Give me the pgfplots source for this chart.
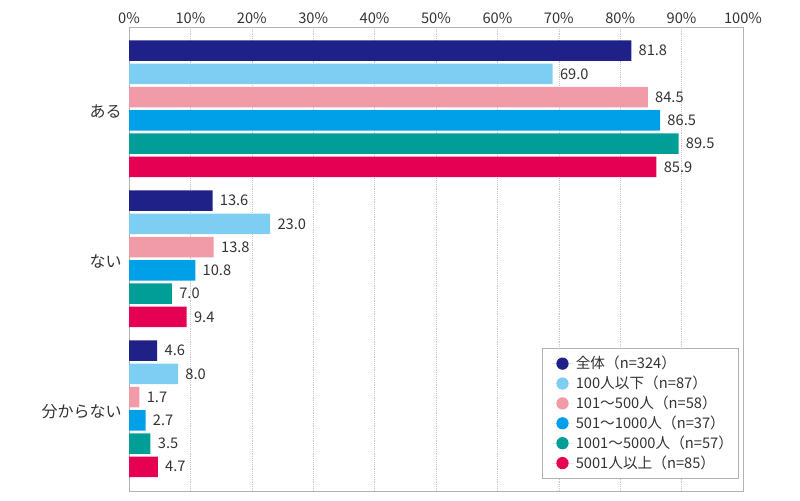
\documentclass[border=0pt]{standalone}
\usepackage{fontspec}
\setmainfont{Noto Sans CJK JP}
\usepackage{pgfplots}
\pgfplotsset{compat=1.18}
\definecolor{cA}{RGB}{31,33,136}
\definecolor{cB}{RGB}{126,206,244}
\definecolor{cC}{RGB}{240,155,167}
\definecolor{cD}{RGB}{0,160,233}
\definecolor{cE}{RGB}{0,158,150}
\definecolor{cF}{RGB}{230,0,84}
\definecolor{txt}{RGB}{51,51,51}
\newcommand\cp{）\kern-0.45em\relax}
\begin{document}
\begin{tikzpicture}
\path[use as bounding box] (0,0) rectangle (600pt,375pt);
\begin{axis}[
  at={(96.75pt,6.75pt)}, anchor=south west,
  width=460.5pt, height=348pt, scale only axis,
  xbar,
  xmin=0, xmax=100,
  xtick={0,10,...,100},
  xticklabels={0\%,10\%,20\%,30\%,40\%,50\%,60\%,70\%,80\%,90\%,100\%},
  xticklabel pos=top,
  ymin=-0.545, ymax=2.549, y dir=reverse,
  ytick={0,1,2},
  yticklabels={ある,ない,分からない},
  major tick length=0pt,
  tick label style={font=\fontsize{11}{13}\selectfont, text=txt},
  xticklabel style={yshift=-1pt},
  yticklabel style={font=\fontsize{12}{14}\selectfont, xshift=-2pt, yshift=-2pt},
  xmajorgrids,
  grid style={densely dotted, gray!45},
  axis line style={gray!60},
  bar width=0.137,
  point meta=x,
  nodes near coords={\pgfmathprintnumber[fixed,fixed zerofill,precision=1,assume math mode=true]{\pgfplotspointmeta}},
  nodes near coords style={font=\fontsize{11}{13}\selectfont, text=txt, anchor=west, xshift=2pt},
  legend image code/.code={\path (0pt,0pt) -- (16pt,0pt); \fill[#1] (8pt,0pt) circle (4.6pt);},
  legend style={at={(0.673,0.308)}, anchor=north west, draw=gray!60,
    font=\fontsize{11}{12.5}\selectfont, text=txt, row sep=0pt,
    inner xsep=7pt, inner ysep=4pt},
  legend cell align=left,
]
\addplot[fill=cA, draw=none, bar shift=-0.3875] coordinates {(81.8,0) (13.6,1) (4.6,2)};
\addplot[fill=cB, draw=none, bar shift=-0.2325] coordinates {(69.0,0) (23.0,1) (8.0,2)};
\addplot[fill=cC, draw=none, bar shift=-0.0775] coordinates {(84.5,0) (13.8,1) (1.7,2)};
\addplot[fill=cD, draw=none, bar shift=0.0775] coordinates {(86.5,0) (10.8,1) (2.7,2)};
\addplot[fill=cE, draw=none, bar shift=0.2325] coordinates {(89.5,0) (7.0,1) (3.5,2)};
\addplot[fill=cF, draw=none, bar shift=0.3875] coordinates {(85.9,0) (9.4,1) (4.7,2)};
\legend{全体（n=324\cp,100人以下（n=87\cp,101〜500人（n=58\cp,501〜1000人（n=37\cp,1001〜5000人（n=57\cp,5001人以上（n=85\cp}
\end{axis}
\end{tikzpicture}
\end{document}
